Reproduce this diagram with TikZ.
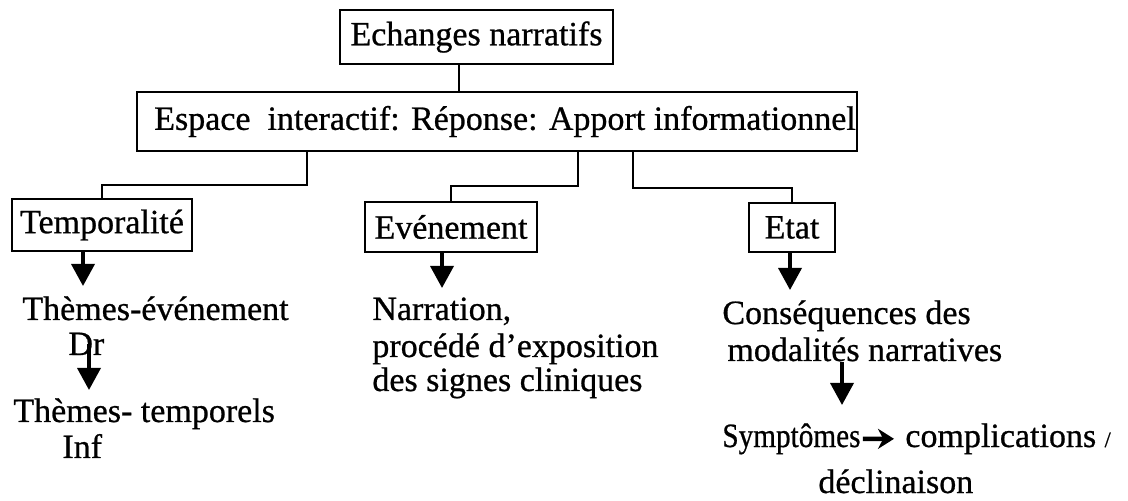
\documentclass[tikz,border=0pt]{standalone}
\usepackage{fontspec}
\usepackage{graphicx}
\setmainfont{Liberation Serif}[FakeBold=0.7]
\usetikzlibrary{arrows.meta}
\newcommand\mainsize{\fontsize{17}{20}\selectfont}
\begin{document}
\begin{tikzpicture}[x=0.5pt,y=-0.5pt,
  box/.style={draw,line width=1.1pt,inner sep=0pt,font=\mainsize},
  lbl/.style={inner sep=0pt,anchor=base west,font=\mainsize},
  link/.style={line width=1pt},
  arr/.style={line width=1.8pt,-{Triangle[width=11.5pt,length=11pt]}},
  smallarr/.style={line width=2.2pt,-{Stealth[width=10pt,length=8pt]}},
]
\useasboundingbox (0,0) rectangle (1128,501);

% boxes
\node[box,minimum width=136.5pt,minimum height=27pt] (ech) at (476.5,37) {Echanges narratifs};
\node[box,minimum width=360pt,minimum height=29.5pt] (esp) at (497,121.5)
  {\hspace*{8pt}Espace\ \ interactif: Réponse: Apport informationnel};
\node[box,minimum width=90pt,minimum height=26pt] (temp) at (102,225) {Temporalité};
\node[box,minimum width=86pt,minimum height=25pt] (evt) at (451,227) {Evénement};
\node[box,minimum width=43pt,minimum height=24.5pt] (etat) at (792,227.5) {Etat};

% branch columns
\path (459,0) coordinate (rb) (307,0) coordinate (tb)
      (578,0) coordinate (eb) (633,0) coordinate (sb);

\draw[link] (ech.south -| rb) -- (esp.north -| rb);
\draw[link] (esp.south -| tb) -- ++(0,33) -| (temp.north);
\draw[link] (esp.south -| eb) -- ++(0,34) -| (evt.north);
\draw[link] (esp.south -| sb) -- ++(0,36) -| (etat.north);

% left column
\node[lbl] (th1) at (22,320) {Thèmes-événement};
\node[lbl] (dr) at (68,355) {Dr};
\node[lbl] (th2) at (13,422) {Thèmes- temporels};
\node[lbl] (inf) at (62,458) {Inf};

% middle column
\node[lbl] (narr1) at (372,320) {Narration,};
\node[lbl] (narr2) at (372,357) {procédé d’exposition};
\node[lbl] (narr3) at (372,391) {des signes cliniques};

% right column
\node[lbl] (cons1) at (722,324) {Conséquences des};
\node[lbl] (cons2) at (727,361) {modalités narratives};
\node[lbl] (sym) at (722,447) {\scalebox{0.86}[1]{Symptômes}};
\node[lbl] (comp) at (905,447) {complications {\fontsize{11}{12}\selectfont/}};
\node[lbl] (decl) at (818,493) {déclinaison};

% arrow tips
\coordinate (tA) at (83,286);
\coordinate (tB) at (442,288);
\coordinate (tC) at (790,290);
\coordinate (tD) at (89,390);
\coordinate (tE) at (842,405);

\draw[arr] (temp.south -| tA) -- (tA);
\draw[arr] (evt.south -| tB) -- (tB);
\draw[arr] (etat.south -| tC) -- (tC);
\draw[arr] (dr.center -| tD) -- (tD);
\draw[arr] (cons2.south -| tE) -- (tE);
\draw[smallarr,shorten <=1pt,shorten >=5.5pt] (sym.east) -- (comp.west);
\end{tikzpicture}
\end{document}
